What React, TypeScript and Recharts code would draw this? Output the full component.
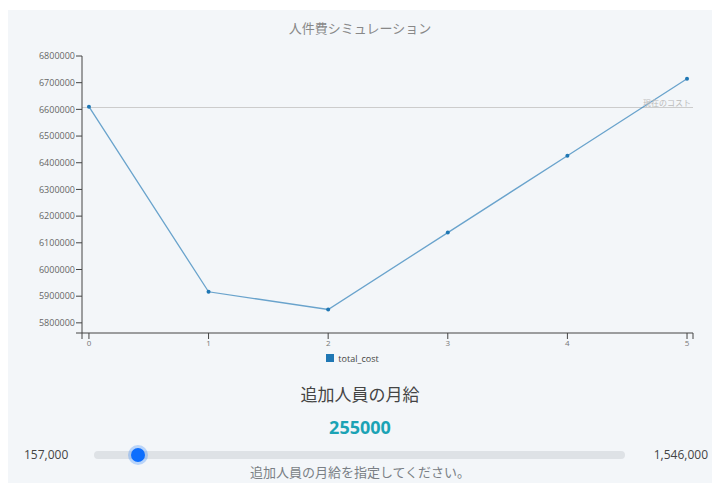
import { CartesianGrid, Legend, Line, LineChart, ReferenceLine, XAxis, YAxis } from 'recharts'

const headcounts = [0, 1, 2, 3, 4, 5]
const totalCost = [6610000, 5916500, 5850000, 6138300, 6426300, 6714700]
const currentCost = 6607000

const yTicks = [5762000, 5800000, 5900000, 6000000, 6100000, 6200000, 6300000, 6400000, 6500000, 6600000, 6700000, 6800000]
const xDomain: [number, number] = [-0.058, 5.05]
const xTicks = [-0.058, 0, 1, 2, 3, 4, 5, 5.05]

const salaryMin = 157000
const salaryMax = 1546000
const salaryValue = 255000

const FONT = "'Open Sans', 'Noto Sans CJK JP', sans-serif"
const JP = "'Noto Sans CJK JP', 'Open Sans', sans-serif"

const data = headcounts.map((n, i) => ({ n, total_cost: totalCost[i] }))

function SalarySlider() {
 const trackLeft = 86
 const trackWidth = 531
 const thumb = 16
 const frac = (salaryValue - salaryMin) / (salaryMax - salaryMin)
 const cx = trackLeft + frac * (trackWidth - thumb) + thumb / 2
 return (
 <>
 <div style={{ position: 'absolute', left: 0, width: 704, top: 373, textAlign: 'center', fontFamily: JP, fontSize: 17, color: '#444' }}>
 追加人員の月給
 </div>
 <div style={{ position: 'absolute', left: 0, width: 704, top: 407, textAlign: 'center', fontFamily: FONT, fontSize: 18, fontWeight: 700, color: '#1ba3b5' }}>
 {salaryValue}
 </div>
 <div style={{ position: 'absolute', left: 16, top: 438, fontFamily: FONT, fontSize: 12, color: '#444' }}>
 {salaryMin.toLocaleString('en-US')}
 </div>
 <div style={{ position: 'absolute', right: 4, top: 438, fontFamily: FONT, fontSize: 12, color: '#444' }}>
 {salaryMax.toLocaleString('en-US')}
 </div>
 <div style={{ position: 'absolute', left: trackLeft, top: 443, width: trackWidth, height: 8, borderRadius: 4, background: '#dee2e6' }} />
 <div
 style={{
 position: 'absolute',
 left: cx - 7,
 top: 440,
 width: 14,
 height: 14,
 borderRadius: 7,
 background: '#0d6efd',
 boxShadow: '0 0 0 3px rgba(13,110,253,0.25)',
 }}
 />
 <div style={{ position: 'absolute', left: 0, width: 704, top: 454, textAlign: 'center', fontFamily: JP, fontSize: 13, color: '#7a7f85' }}>
 追加人員の月給を指定してください。
 </div>
 </>
 )
}

export default function App() {
 return (
 <div style={{ position: 'fixed', left: 0, top: 0, width: 712, height: 483, overflow: 'hidden', background: '#fff' }}>
 <div style={{ position: 'absolute', left: 8, top: 8, width: 704, height: 475 }}>
 <div style={{ position: 'absolute', left: 0, top: 2, width: 704, height: 473, background: '#f3f6f9' }} />
 <div style={{ position: 'absolute', left: 0, width: 704, top: 10, textAlign: 'center', fontFamily: JP, fontSize: 13, color: '#888' }}>
 人件費シミュレーション
 </div>
 <div style={{ position: 'absolute', left: 0, top: 0 }}>
 <LineChart width={704} height={359} data={data} margin={{ top: 48, right: 19, left: 14, bottom: 0 }} style={{ fontFamily: FONT }}>
 <CartesianGrid stroke="none" />
 <XAxis
 dataKey="n"
 type="number"
 domain={xDomain}
 ticks={xTicks}
 allowDataOverflow
 interval={0}
 tickFormatter={(v: number) => (Number.isInteger(v) ? String(v) : '')}
 tick={{ fontSize: 8, fill: '#777' }}
 stroke="#444"
 tickMargin={1}
 height={12}
 />
 <YAxis
 type="number"
 domain={[yTicks[0], yTicks[yTicks.length - 1]]}
 ticks={yTicks}
 allowDataOverflow
 interval={0}
 tickFormatter={(v: number) => (v % 100000 === 0 ? String(v) : '')}
 tick={{ fontSize: 9, fill: '#666' }}
 stroke="#444"
 tickMargin={1}
 width={60}
 />
 <ReferenceLine
 y={currentCost}
 stroke="#cccccc"
 strokeWidth={1}
 label={{ value: '現在のコスト', position: 'insideBottomRight', offset: 2, fontSize: 8, fill: '#bbb', fontFamily: JP }}
 />
 <Legend
 verticalAlign="bottom"
 iconType="square"
 iconSize={8}
 formatter={(value: string) => <span style={{ color: '#444', fontSize: 9 }}>{value}</span>}
 />
 <Line
 type="linear"
 dataKey="total_cost"
 stroke="#1f77b4"
 strokeOpacity={0.65}
 strokeWidth={1.3}
 dot={{ r: 2, fill: '#1f77b4', stroke: 'none', fillOpacity: 1 }}
 activeDot={false}
 isAnimationActive={false}
 />
 </LineChart>
 </div>
 <SalarySlider />
 </div>
 </div>
 )
}
